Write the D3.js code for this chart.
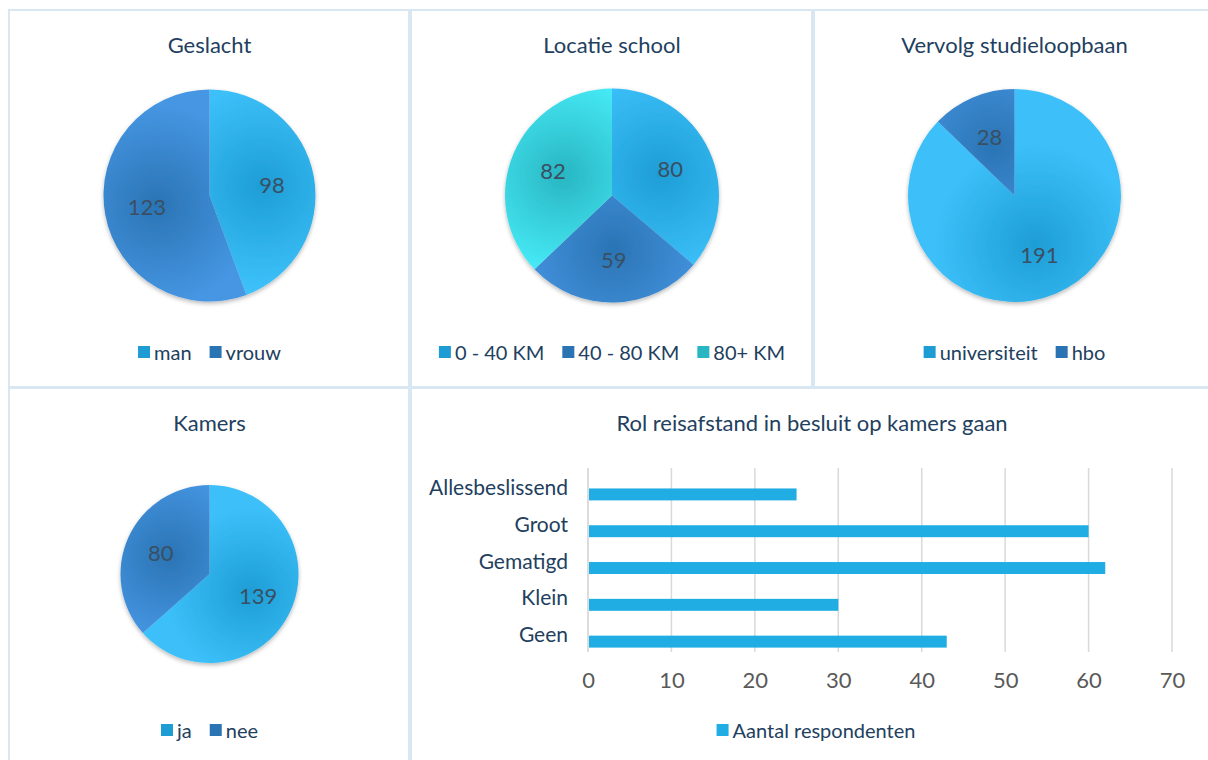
<!DOCTYPE html>
<html><head><meta charset="utf-8">
<script src="https://cdn.jsdelivr.net/npm/d3@7"></script>
<style>
body{margin:0;background:#fff}
svg{display:block}
text{font-family:Lato,"Open Sans",sans-serif}
</style></head>
<body><svg id="c" width="1208" height="760"></svg>
<script>
// ---- data ----
const genderCats = ["man", "vrouw"];
const genderVals = [98, 123];
const locCats = ["0 - 40 KM", "40 - 80 KM", "80+ KM"];
const locVals = [80, 59, 82];
const studyCats = ["universiteit", "hbo"];
const studyVals = [191, 28];
const roomCats = ["ja", "nee"];
const roomVals = [139, 80];
const distCats = ["Allesbeslissend", "Groot", "Gematigd", "Klein", "Geen"];
const distVals = [25, 60, 62, 30, 43];
const distTicks = [0, 10, 20, 30, 40, 50, 60, 70];
const distSeries = "Aantal respondenten";

// ---- styles ----
const palette = [
  {edge: "#3cc0f9", core: "#1e9dd5"},
  {edge: "#4696e3", core: "#2a74b4"},
  {edge: "#47ecf8", core: "#28b6c2"}
];
const titleColor = "#22405e";
const legendColor = "#22405e";
const labelColor = "#3a4f63";

const svg = d3.select("#c");
const defs = svg.append("defs");
const f = defs.append("filter").attr("id", "sh").attr("x", "-10%").attr("y", "-10%").attr("width", "120%").attr("height", "125%");
f.append("feDropShadow").attr("dx", 0).attr("dy", 2).attr("stdDeviation", 2).attr("flood-color", "#000").attr("flood-opacity", 0.28);

// panels
const panels = [
  [9, 10, 400, 377], [411, 10, 401, 377], [814, 10, 400, 377],
  [9, 388, 400, 376], [411, 388, 803, 376]
];
svg.selectAll("rect.panel").data(panels).join("rect")
  .attr("class", "panel")
  .attr("x", d => d[0]).attr("y", d => d[1]).attr("width", d => d[2]).attr("height", d => d[3])
  .attr("fill", "#fff").attr("stroke", "#d8e7f2").attr("stroke-width", 2);

function title(txt, cx, cy) {
  svg.append("text").attr("x", cx).attr("y", cy).attr("text-anchor", "middle")
    .attr("dominant-baseline", "central").attr("font-size", 22).attr("fill", titleColor).text(txt);
}

function legend(items, cx, cy, colorFor) {
  const g = svg.append("g");
  let x = 0;
  items.forEach((t, i) => {
    const it = g.append("g").attr("transform", `translate(${x},0)`);
    it.append("rect").attr("x", 0).attr("y", -6).attr("width", 12).attr("height", 12).attr("fill", colorFor(i));
    const tx = it.append("text").attr("x", 16).attr("y", 0).attr("dominant-baseline", "central")
      .attr("font-size", 20).attr("fill", legendColor).text(t);
    x += 16 + tx.node().getComputedTextLength() + 18;
  });
  const w = x - 18;
  g.attr("transform", `translate(${cx - w / 2},${cy})`);
}

let gid = 0;
function pieChart(cats, vals, cx, cy, r, ttl, titleY, legY) {
  title(ttl, cx, titleY);
  const pie = d3.pie().sort(null).startAngle(0).endAngle(2 * Math.PI);
  const arcs = pie(vals);
  const arc = d3.arc().innerRadius(0).outerRadius(r);
  const g = svg.append("g").attr("transform", `translate(${cx},${cy})`);
  const gs = g.append("g").attr("filter", "url(#sh)");
  arcs.forEach((a, i) => {
    const c = arc.centroid(a);
    const id = "g" + (gid++);
    const p = palette[i];
    const rg = defs.append("radialGradient").attr("id", id).attr("gradientUnits", "userSpaceOnUse")
      .attr("cx", c[0]).attr("cy", c[1]).attr("r", r * 0.95);
    rg.append("stop").attr("offset", "0%").attr("stop-color", p.core);
    rg.append("stop").attr("offset", "100%").attr("stop-color", p.edge);
    gs.append("path").attr("d", arc(a)).attr("fill", `url(#${id})`);
  });
  const lab = d3.arc().innerRadius(r * 0.6).outerRadius(r * 0.6);
  g.selectAll("text.lbl").data(arcs).join("text").attr("class", "lbl")
    .attr("transform", d => `translate(${lab.centroid(d)})`)
    .attr("text-anchor", "middle").attr("dominant-baseline", "central")
    .attr("font-size", 22).attr("fill", labelColor).text(d => d.data);
  legend(cats, cx, legY, i => palette[i].core);
}

pieChart(genderCats, genderVals, 209.5, 195.5, 106, "Geslacht", 44, 352);
pieChart(locCats, locVals, 612, 195.5, 107, "Locatie school", 44, 352);
pieChart(studyCats, studyVals, 1014.5, 195.5, 106.5, "Vervolg studieloopbaan", 44, 352);
pieChart(roomCats, roomVals, 209.5, 574, 89, "Kamers", 422, 730);

// ---- bar chart ----
title("Rol reisafstand in besluit op kamers gaan", 812, 422);
const x = d3.scaleLinear().domain([0, 70]).range([588, 1172]);
const y = d3.scaleBand().domain(distCats).range([468, 652]);
const slot = d3.scaleBand().domain(["", distSeries]).range([y.bandwidth() / 2 - 13, y.bandwidth() / 2 + 13]).paddingInner(0.38).paddingOuter(0);
const bg = svg.append("g");
bg.selectAll("line.grid").data(distTicks.slice(1)).join("line").attr("class", "grid")
  .attr("x1", d => x(d)).attr("x2", d => x(d)).attr("y1", 468).attr("y2", 652)
  .attr("stroke", "#d9d9d9").attr("stroke-width", 1.5);
bg.append("line").attr("x1", x(0)).attr("x2", x(0)).attr("y1", 468).attr("y2", 652)
  .attr("stroke", "#d0d0d0").attr("stroke-width", 1.5);
bg.selectAll("rect.bar").data(distCats).join("rect").attr("class", "bar")
  .attr("x", x(0) + 1).attr("y", (d) => y(d) + slot(distSeries) - 1)
  .attr("width", (d, i) => x(distVals[i]) - x(0) - 1).attr("height", slot.bandwidth() + 2)
  .attr("fill", "#1fade3");
const xAxis = d3.axisBottom(x).tickValues(distTicks).tickSize(0).tickPadding(0).tickFormat(d3.format("d"));
const xa = svg.append("g").attr("transform", "translate(0,679)").call(xAxis);
xa.select(".domain").remove();
xa.selectAll("text").attr("font-size", 22).attr("fill", "#595959").attr("dy", null)
  .attr("dominant-baseline", "central").style("font-family", "Lato, sans-serif");
const yAxis = d3.axisLeft(y).tickSize(0).tickPadding(0);
const ya = svg.append("g").attr("transform", "translate(568,0)").call(yAxis);
ya.select(".domain").remove();
ya.selectAll("text").attr("font-size", 21).attr("fill", "#22405e").attr("dy", null)
  .attr("dominant-baseline", "central").style("font-family", "Lato, sans-serif");
legend([distSeries], 816, 730, () => "#1fade3");
</script></body></html>
